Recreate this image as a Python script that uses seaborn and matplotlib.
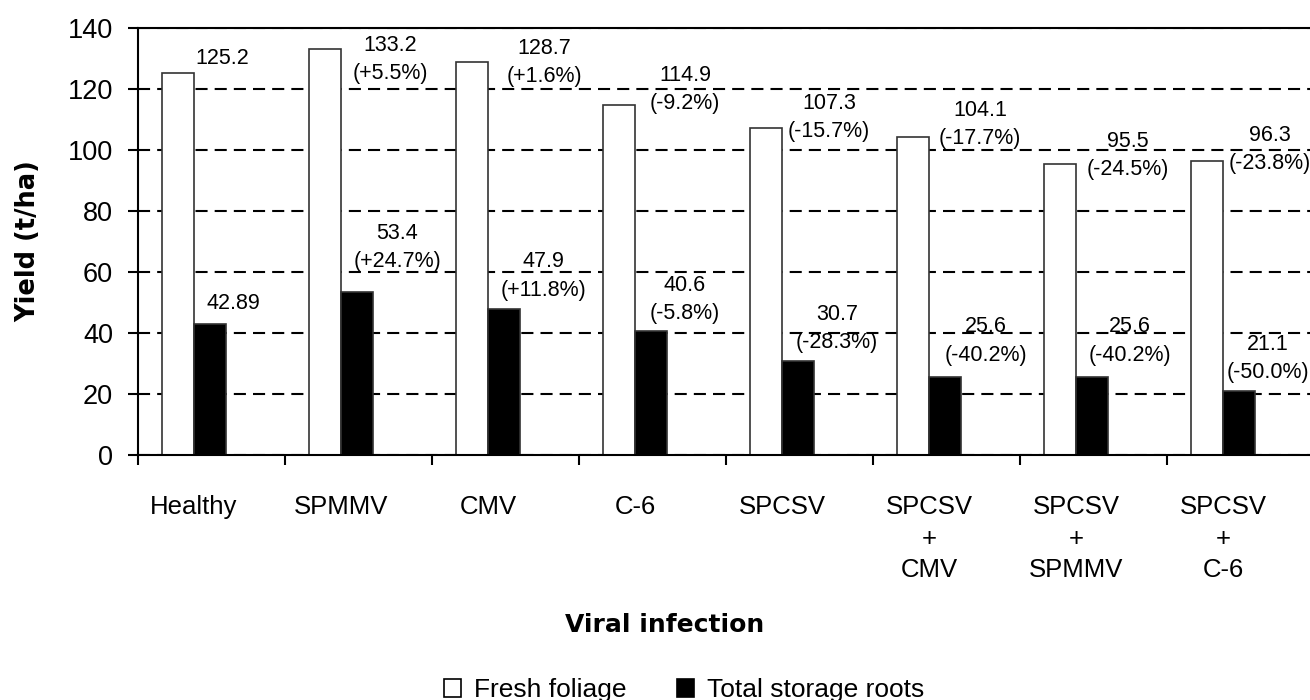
import numpy as np
import pandas as pd
import seaborn as sns
import matplotlib.pyplot as plt

# Yield (t/ha) per viral infection
infections = ["Healthy", "SPMMV", "CMV", "C-6", "SPCSV",
              "SPCSV\n+\nCMV", "SPCSV\n+\nSPMMV", "SPCSV\n+\nC-6"]
parts = ["Fresh foliage", "Total storage roots"]
foliage = [125.2, 133.2, 128.7, 114.9, 107.3, 104.1, 95.5, 96.3]
roots = [42.89, 53.4, 47.9, 40.6, 30.7, 25.6, 25.6, 21.1]
foliage_change = [None, "+5.5%", "+1.6%", "-9.2%", "-15.7%", "-17.7%", "-24.5%", "-23.8%"]
roots_change = [None, "+24.7%", "+11.8%", "-5.8%", "-28.3%", "-40.2%", "-40.2%", "-50.0%"]

# label nudges in pixels (right of the bar pair, above the bar top)
foliage_dx = [28, 49, 56, 50, 47, 51, 52, 47]
foliage_dy = [15, -11, 0, 15, 10, 13, 8, 12]
roots_dx = [39, 56, 55, 50, 55, 57, 54, 45]
roots_dy = [21, 45, 33, 32, 33, 36, 36, 32]

df = pd.DataFrame({
    "infection": infections * 2,
    "part": [parts[0]] * len(infections) + [parts[1]] * len(infections),
    "yield": foliage + roots,
})

sns.set_theme(style="ticks")
plt.rcParams["font.family"] = ["Liberation Sans", "DejaVu Sans"]
plt.rcParams.update({"text.color": "black", "axes.labelcolor": "black",
                     "xtick.color": "black", "ytick.color": "black"})

DPI = 100
px = 72 / DPI                                   # pixels -> points
fig = plt.figure(figsize=(13.1, 7), dpi=DPI)
ax = fig.add_axes([138 / 1310, 245 / 700, 1176 / 1310, 427 / 700])

sns.barplot(data=df, x="infection", y="yield", hue="part",
            order=infections, hue_order=parts,
            palette={parts[0]: "white", parts[1]: "black"},
            saturation=1, width=0.435, edgecolor="#333333", linewidth=1.2, ax=ax)

# axes, ticks and grid
ax.set_xlim(-0.381, 7.619)
ax.set_ylim(0, 140)
ax.set_yticks(np.arange(0, 141, 20))
ax.set_xticks(range(len(infections)))
ax.set_xticklabels(infections, fontsize=18.5, linespacing=1.4)
ax.set_xticks(np.arange(len(infections) + 1) - 0.381, minor=True)
ax.tick_params(axis="x", which="major", length=0, pad=29)
ax.tick_params(axis="x", which="minor", length=7, width=1.5, direction="out", color="black")
ax.tick_params(axis="y", length=7, width=1.5, direction="out", pad=11,
               labelsize=19.5, color="black")

for side in ["left", "bottom", "top"]:
    ax.spines[side].set_visible(True)
    ax.spines[side].set_linewidth(1.5)
    ax.spines[side].set_color("black")
ax.spines["right"].set_visible(False)

ax.set_axisbelow(True)
ax.yaxis.grid(True, color="black", linewidth=1.5, linestyle=(0, (5.8, 3.4)))
ax.xaxis.grid(False)

# value labels
series = [(foliage, foliage_change, foliage_dx, foliage_dy),
          (roots, roots_change, roots_dx, roots_dy)]
for vals, chg, dxs, dys in series:
    for i, v in enumerate(vals):
        txt = f"{v:g}" if chg[i] is None else f"{v:g}\n({chg[i]})"
        ax.annotate(txt, xy=(i, v), xytext=(dxs[i] * px, dys[i] * px),
                    textcoords="offset points", ha="center", va="center",
                    fontsize=15.5, linespacing=1.45, color="black",
                    annotation_clip=False)

# axis titles
ax.set_ylabel("Yield (t/ha)", fontsize=18.5, fontweight="bold",
              family="DejaVu Sans", va="center")
ax.yaxis.set_label_coords(-0.0935, 0.5)
ax.set_xlabel("Viral infection", fontsize=18, fontweight="bold",
              family="DejaVu Sans", va="center")
ax.xaxis.set_label_coords((665 - 138) / 1176, (455 - 625) / 427)

# legend below the plot
old = ax.get_legend()
handles = old.legend_handles
labels = [t.get_text() for t in old.get_texts()]
for h in handles:
    h.set_edgecolor("black")
    h.set_linewidth(1.2)
ax.legend(handles, labels, loc="center", bbox_to_anchor=(684 / 1310, 1 - 690 / 700),
          bbox_transform=fig.transFigure, ncol=2, frameon=False, fontsize=19,
          handlelength=0.65, handleheight=0.65, handletextpad=0.5, columnspacing=1.9)

fig.savefig("out.png", dpi=DPI, facecolor="white")
